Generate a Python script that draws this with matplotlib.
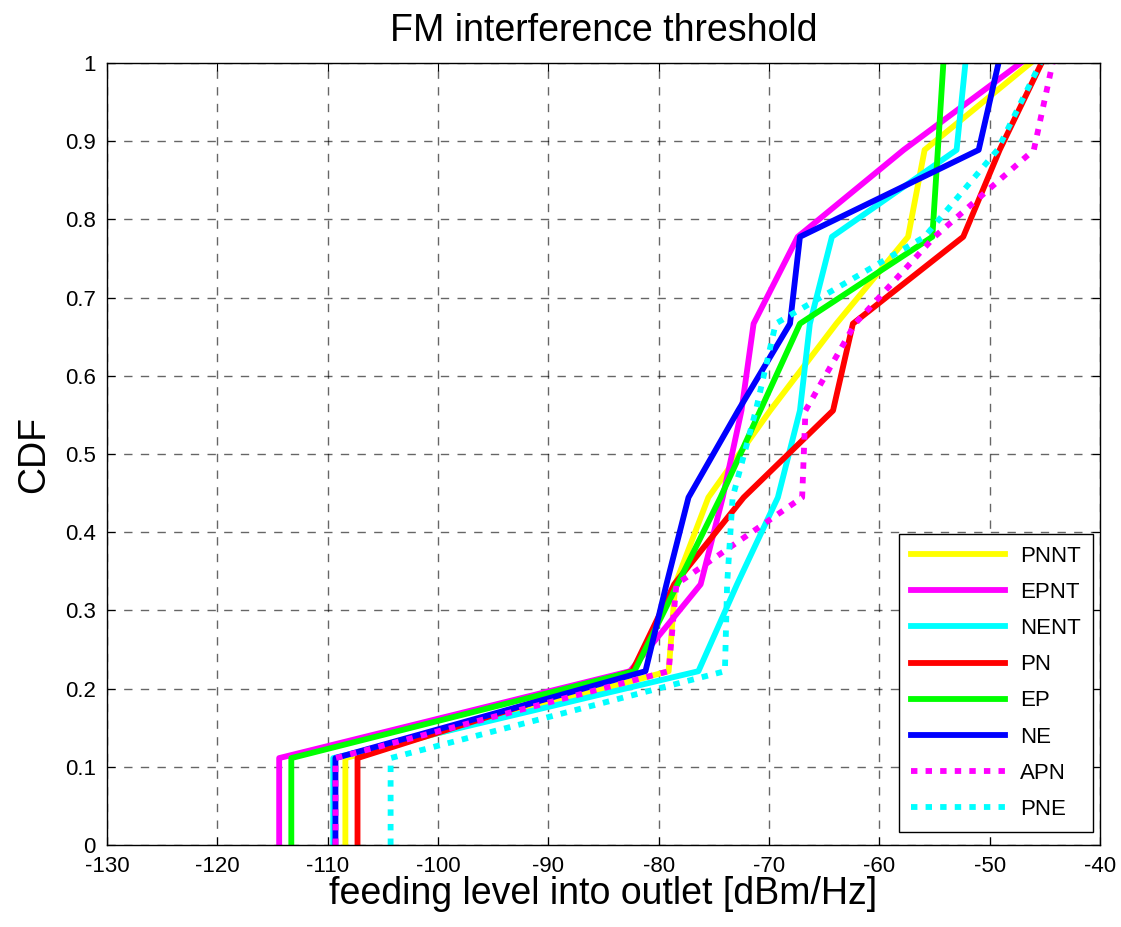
import numpy as np
import matplotlib
matplotlib.use('Agg')
import matplotlib.pyplot as plt

plt.rcParams['font.family'] = ['Liberation Sans', 'DejaVu Sans']
plt.rcParams['axes.unicode_minus'] = False

# CDF levels (9 samples, first point repeated at 0)
cdf = [0, 1/9, 2/9, 3/9, 4/9, 5/9, 6/9, 7/9, 8/9, 1]

pnnt = [-108.4, -108.4, -79.1, -78.5, -75.5, -69.9, -63.9, -57.4, -55.9, -46.3]
epnt = [-114.4, -114.4, -82.6, -76.2, -74.2, -72.5, -71.4, -67.4, -57.8, -47.2]
nent = [-109.5, -109.5, -76.4, -72.9, -69.2, -67.2, -66.3, -64.3, -53.0, -52.2]
pn   = [-107.3, -107.3, -82.4, -78.6, -72.3, -64.2, -62.4, -52.4, -49.1, -45.3]
ep   = [-113.3, -113.3, -82.2, -78.3, -74.4, -70.8, -67.2, -55.2, -54.7, -54.2]
ne   = [-109.3, -109.3, -81.2, -79.3, -77.3, -72.8, -68.1, -67.2, -51.0, -49.2]
apn  = [-109.3, -109.3, -79.1, -78.4, -67.0, -66.7, -62.2, -55.0, -46.0, -44.3]
pne  = [-104.3, -104.3, -74.0, -73.8, -73.3, -71.2, -69.4, -55.9, -49.3, -45.4]

fig = plt.figure(figsize=(11.21, 9.27), dpi=100)
ax = fig.add_axes([0.0955, 0.0885, 0.8858, 0.8435])

lw = 4.2
dots = (0, (1.1, 1.4))
ax.plot(pnnt, cdf, color='#ffff00', lw=lw, label='PNNT')
ax.plot(epnt, cdf, color='#ff00ff', lw=lw, label='EPNT')
ax.plot(nent, cdf, color='#00ffff', lw=lw, label='NENT')
ax.plot(pn, cdf, color='#ff0000', lw=lw, label='PN')
ax.plot(ep, cdf, color='#00ff00', lw=lw, label='EP')
ax.plot(ne, cdf, color='#0000ff', lw=lw, label='NE')
ax.plot(apn, cdf, color='#ff00ff', lw=lw, ls=dots, dash_capstyle='butt', label='APN')
ax.plot(pne, cdf, color='#00ffff', lw=lw, ls=dots, dash_capstyle='butt', label='PNE')

ax.set_xlim(-130, -40)
ax.set_ylim(0, 1)
ax.set_xticks(np.arange(-130, -39, 10))
ax.set_yticks(np.arange(0, 1.01, 0.1))
ax.set_yticklabels(['0', '0.1', '0.2', '0.3', '0.4', '0.5', '0.6', '0.7', '0.8', '0.9', '1'])
ax.tick_params(direction='in', top=True, right=True, labelsize=16, length=6)
ax.tick_params(axis='x', pad=8)
ax.tick_params(axis='y', pad=8)
ax.grid(True, color='#000000', ls=(0, (6, 6)), lw=1.0, alpha=0.6)
for s in ax.spines.values():
    s.set_linewidth(1.0)

ax.set_title('FM interference threshold', fontsize=27, pad=16)
ax.set_xlabel('feeding level into outlet [dBm/Hz]', fontsize=27, labelpad=-1)
ax.set_ylabel('CDF', fontsize=27, labelpad=9)

leg = ax.legend(loc='lower right', bbox_to_anchor=(0.993, 0.0166), borderaxespad=0,
                fontsize=16, handlelength=4.2, labelspacing=0.68, borderpad=0.55,
                handletextpad=0.7, fancybox=False, framealpha=1, edgecolor='black')
leg.get_frame().set_linewidth(1.0)

fig.savefig('out.png', dpi=100)
